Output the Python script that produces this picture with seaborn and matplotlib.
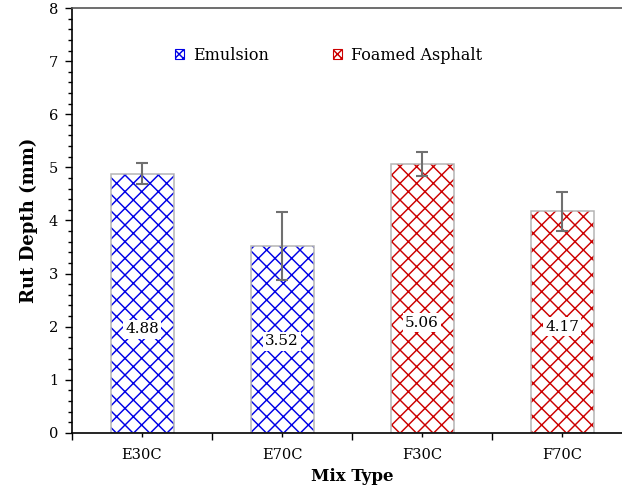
import matplotlib
matplotlib.use("Agg")
import matplotlib.pyplot as plt
import matplotlib.patches as mpatches
from matplotlib.ticker import MultipleLocator, FixedLocator
import seaborn as sns
import numpy as np
import pandas as pd

# Rut depth results per mix
categories = ['E30C', 'E70C', 'F30C', 'F70C']
binder = ['Emulsion', 'Emulsion', 'Foamed Asphalt', 'Foamed Asphalt']
rut_depth = [4.88, 3.52, 5.06, 4.17]
rut_err = [0.20, 0.64, 0.23, 0.36]
value_labels = ['4.88', '3.52', '5.06', '4.17']

df = pd.DataFrame({'Mix Type': categories, 'Binder': binder, 'Rut Depth': rut_depth})

hatch_colors = {'Emulsion': '#0000e6', 'Foamed Asphalt': '#cc0000'}


def create_rut_plot():
    sns.set_style("ticks")
    plt.rcParams['font.family'] = ['DejaVu Serif']
    plt.rcParams['hatch.linewidth'] = 1.05
    for k in ['text.color', 'axes.labelcolor', 'xtick.color', 'ytick.color']:
        plt.rcParams[k] = 'black'

    fig = plt.figure(figsize=(6.22, 4.94), dpi=100)
    ax = fig.add_axes([0.1158, 0.1235, 0.9003, 0.8603])

    # hatched fill layer
    sns.barplot(data=df, x='Mix Type', y='Rut Depth', hue='Binder', palette=hatch_colors,
                saturation=1, dodge=False, width=0.45, errorbar=None, legend=False, ax=ax)
    for p in ax.patches:
        c = p.get_facecolor()
        p.set_facecolor('white')
        p.set_edgecolor(c)
        p.set_hatch('xx')
        p.set_linewidth(0)

    # gray outline layer
    sns.barplot(data=df, x='Mix Type', y='Rut Depth', fill=False, color='#b5b5b5',
                saturation=1, width=0.45, errorbar=None, linewidth=1.1, ax=ax)

    xpos = np.arange(len(categories))
    ax.errorbar(xpos, rut_depth, yerr=rut_err, fmt='none', ecolor='#707070',
                elinewidth=1.5, capsize=4, capthick=1.5, zorder=5)

    # value labels inside the bars
    label_frac = [0.40, 0.49, 0.41, 0.48]
    for i, (v, t) in enumerate(zip(rut_depth, value_labels)):
        ax.text(i, v * label_frac[i], t, ha='center', va='center', fontsize=11,
                bbox=dict(boxstyle='square,pad=0.15', fc='white', ec='none'), zorder=6)

    ax.set_ylim(0, 8)
    ax.set_xlim(-0.5, 3.5)
    ax.yaxis.set_major_locator(MultipleLocator(1))
    ax.yaxis.set_minor_locator(MultipleLocator(0.2))
    ax.xaxis.set_minor_locator(FixedLocator([-0.5, 0.5, 1.5, 2.5]))
    ax.tick_params(axis='y', which='major', length=5, width=1, labelsize=10.5, direction='out', pad=5)
    ax.tick_params(axis='y', which='minor', length=3, width=1, direction='out')
    ax.tick_params(axis='x', which='major', length=3, width=1, labelsize=10.5, pad=8)
    ax.tick_params(axis='x', which='minor', length=5, width=1)

    for s in ['left', 'bottom']:
        ax.spines[s].set_color('black')
        ax.spines[s].set_linewidth(1.2)
    ax.spines['top'].set_color('#555555')
    ax.spines['top'].set_linewidth(1.2)
    ax.spines['right'].set_visible(False)

    ax.set_xlabel('Mix Type', fontsize=12, fontweight='bold', labelpad=4)
    ax.set_ylabel('Rut Depth (mm)', fontsize=13, fontweight='bold', labelpad=8)

    handles = [mpatches.Patch(facecolor='white', edgecolor=hatch_colors[b], hatch='xxxx',
                              linewidth=0.8, label=b) for b in hatch_colors]
    ax.legend(handles=handles, loc='center left', bbox_to_anchor=(0.183, 0.889), ncol=2,
              frameon=False, fontsize=11.5, handlelength=0.6, handleheight=0.6,
              handletextpad=0.55, columnspacing=4.0, borderpad=0, borderaxespad=0)

    fig.savefig('out.png', dpi=100)


if __name__ == "__main__":
    create_rut_plot()
